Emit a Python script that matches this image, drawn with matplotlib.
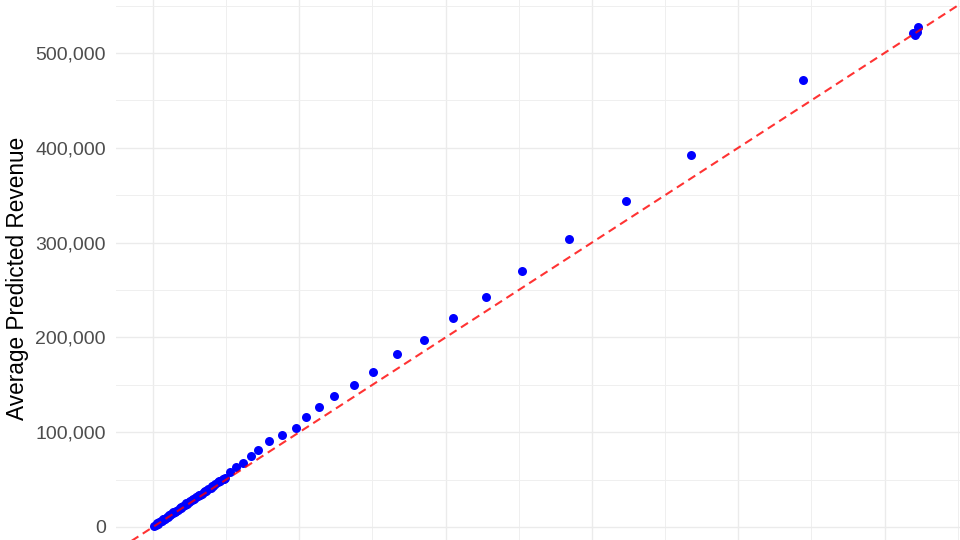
import matplotlib
matplotlib.use("Agg")
import matplotlib.pyplot as plt
from matplotlib.ticker import FuncFormatter, MultipleLocator

plt.rcParams['font.family'] = ['Liberation Sans', 'DejaVu Sans']

# Actual revenue (x) and average predicted revenue (y), in thousands
actual = [
    1.0, 2.0, 3.2, 4.1, 5.3, 6.0, 7.2, 8.1, 9.3, 10.2, 11.5, 12.4, 13.6, 14.8,
    15.9, 17.1, 18.3, 19.4, 20.6, 21.8, 23.0, 24.3, 25.5, 26.8, 28.0, 29.3,
    30.7, 32.0, 33.4, 34.9, 36.3, 37.8, 39.4, 41.0, 42.6, 44.3, 46.0, 47.8, 49.5,
    3.0, 6.5, 10.8, 14.0, 18.8, 22.5, 27.2, 31.5, 35.5, 40.2, 44.8, 48.6,
    52.6, 56.5, 61.7, 67.0, 72.1, 79.6, 88.2, 97.7, 104.8, 113.5, 123.9, 137.6,
    150.4, 166.6, 185.0, 205.3, 227.8, 252.2, 284.6, 323.1, 367.7, 444.1,
    519.7, 520.8, 522.0, 523.1,
]
predicted = [
    1.2, 2.6, 3.5, 4.9, 6.0, 6.6, 8.0, 8.9, 10.4, 11.0, 12.6, 13.5, 14.6, 16.1,
    17.2, 18.2, 19.8, 20.5, 22.0, 23.4, 24.2, 25.9, 27.0, 28.6, 29.5, 31.2,
    32.4, 34.0, 35.1, 37.0, 38.1, 40.2, 41.5, 43.6, 45.0, 47.2, 48.4, 50.1, 52.0,
    4.6, 8.3, 12.9, 16.0, 21.0, 24.8, 29.8, 34.1, 38.4, 43.3, 48.1, 50.6,
    57.7, 63.0, 67.8, 74.7, 80.7, 90.2, 97.0, 104.7, 115.7, 126.9, 137.9, 149.5,
    163.8, 182.8, 196.9, 220.2, 242.9, 269.7, 303.5, 344.2, 392.4, 471.2,
    520.8, 519.0, 522.5, 527.7,
]
actual = [v * 1000 for v in actual]
predicted = [v * 1000 for v in predicted]

y_ticks = [0, 100000, 200000, 300000, 400000, 500000]
y_label = "Average Predicted Revenue"

W, H = 960, 540
fig = plt.figure(figsize=(9.6, 5.4), dpi=100)
left_px, right_px, top_px, bottom_px = 116, 960, 0, 556
ax = fig.add_axes([left_px / W, (H - bottom_px) / H,
                   (right_px - left_px) / W, (bottom_px - top_px) / H])

ax.set_xlim(-25300, 551600)
ax.set_ylim(-30600, 555900)

for s in ax.spines.values():
    s.set_visible(False)

ax.xaxis.set_major_locator(MultipleLocator(100000))
ax.xaxis.set_minor_locator(MultipleLocator(50000))
ax.set_yticks(y_ticks)
ax.yaxis.set_minor_locator(MultipleLocator(50000))
ax.grid(True, which='major', color='#EBEBEB', linewidth=1.0, zorder=0)
ax.grid(True, which='minor', color='#EFEFEF', linewidth=0.7, zorder=0)
ax.set_axisbelow(True)

fmt = FuncFormatter(lambda v, p: f"{int(round(v)):,}")
ax.yaxis.set_major_formatter(fmt)
ax.tick_params(which='both', length=0)
ax.tick_params(axis='y', labelsize=14, labelcolor='#4D4D4D', pad=7.2)
ax.tick_params(axis='x', labelbottom=False)

ax.scatter(actual, predicted, s=42, color='#0000FF', linewidths=0, zorder=2)
ax.axline((0, 0), slope=1, color='red', alpha=0.8, linewidth=1.5,
          linestyle=(0, (4, 2.5)), zorder=3)

fig.text(17.5 / W, 1 - 278.5 / H, y_label, rotation=90, ha='center',
         va='center', fontsize=16.3, color='black')

fig.savefig("out.png", dpi=100)
